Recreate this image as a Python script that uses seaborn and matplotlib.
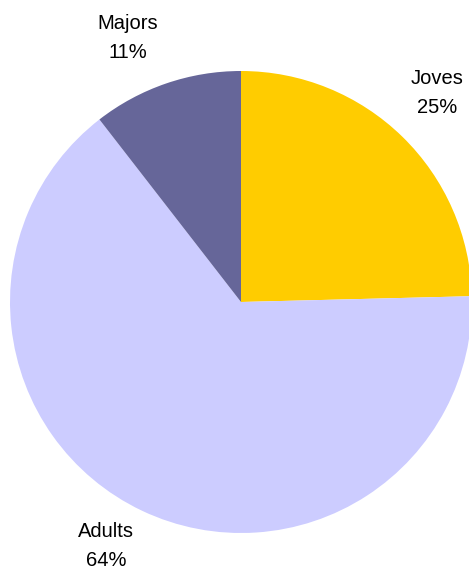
import matplotlib
matplotlib.use('Agg')
import matplotlib.pyplot as plt
import seaborn as sns

# data
groups = ['Joves', 'Adults', 'Majors']
shares = [24.6, 64.9, 10.5]
pct_labels = ['25%', '64%', '11%']
colors = ['#FFCC00', '#CCCCFF', '#666699']

sns.set_theme(style='white')
plt.rcParams['font.family'] = ['Liberation Sans', 'DejaVu Sans']

W, H = 469, 572
fig = plt.figure(figsize=(W / 100, H / 100), dpi=100)
ax = fig.add_axes([0, 0, 1, 1])

palette = sns.color_palette(colors)
wedges, _ = ax.pie(shares,
                   colors=palette,
                   startangle=90,
                   counterclock=False,
                   center=(241, H - 302),
                   radius=231,
                   wedgeprops={'linewidth': 0})

ax.set_xlim(0, W)
ax.set_ylim(0, H)
ax.set_aspect('auto')
ax.axis('off')

# label spots (pixel coords from the top-left)
label_pos = {'Joves': (437, 93), 'Adults': (106, 546), 'Majors': (128, 38)}
for name, pct in zip(groups, pct_labels):
    x, y = label_pos[name]
    ax.text(x, H - y, f"{name}\n{pct}",
            ha='center', va='center', fontsize=14.5,
            linespacing=1.7, color='black')

plt.savefig('out.png', dpi=100)
plt.close()
